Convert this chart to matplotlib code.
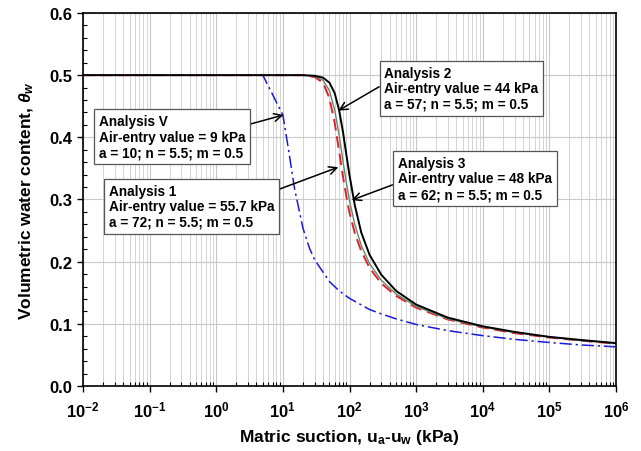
import numpy as np
import matplotlib
matplotlib.use('Agg')
import matplotlib.pyplot as plt
from matplotlib.ticker import LogLocator, FixedLocator, MultipleLocator, FuncFormatter

plt.rcParams['font.family'] = ['Liberation Sans', 'DejaVu Sans']
plt.rcParams['mathtext.fontset'] = 'custom'
plt.rcParams['mathtext.rm'] = 'Liberation Sans:bold'
plt.rcParams['mathtext.it'] = 'Liberation Sans:bold:italic'
plt.rcParams['mathtext.bf'] = 'Liberation Sans:bold'

# matric suction (kPa) and volumetric water content
suction_main = [0.01, 10, 20, 30, 40, 50, 60, 70, 80, 90, 100, 120, 150, 200, 300, 500,
                1e3, 3e3, 1e4, 3e4, 1e5, 3e5, 1e6]
theta_a1 = [0.5, 0.5, 0.5, 0.499, 0.496, 0.488, 0.471, 0.443, 0.408, 0.371, 0.339, 0.291,
            0.247, 0.211, 0.179, 0.153, 0.131, 0.110, 0.096, 0.087, 0.079, 0.074, 0.069]
theta_a3 = [0.5, 0.5, 0.5, 0.498, 0.492, 0.475, 0.444, 0.403, 0.361, 0.326, 0.298, 0.260,
            0.226, 0.197, 0.170, 0.148, 0.128, 0.108, 0.095, 0.086, 0.079, 0.073, 0.069]
theta_a2 = [0.5, 0.5, 0.5, 0.497, 0.488, 0.463, 0.423, 0.377, 0.336, 0.304, 0.279, 0.246,
            0.217, 0.190, 0.165, 0.145, 0.126, 0.107, 0.094, 0.085, 0.078, 0.073, 0.068]

suction_v = [0.01, 5, 10, 12, 15, 20, 25, 30, 50, 70, 100, 200, 300, 500, 1e3, 3e3,
             1e4, 3e4, 1e5, 3e5, 1e6]
theta_v = [0.5, 0.5, 0.436, 0.384, 0.317, 0.254, 0.222, 0.203, 0.168, 0.153, 0.141, 0.123,
           0.116, 0.108, 0.099, 0.089, 0.081, 0.075, 0.070, 0.066, 0.063]

labels = ['Analysis V\nAir-entry value = 9 kPa\na = 10; n = 5.5; m = 0.5',
          'Analysis 1\nAir-entry value = 55.7 kPa\na = 72; n = 5.5; m = 0.5',
          'Analysis 2\nAir-entry value = 44 kPa\na = 57; n = 5.5; m = 0.5',
          'Analysis 3\nAir-entry value = 48 kPa\na = 62; n = 5.5; m = 0.5']

fig = plt.figure(figsize=(6.41, 4.52), dpi=100)
ax = fig.add_axes([83/641, 1-387/452, (616-83)/641, (387-14)/452])

ax.plot(suction_v, theta_v, color='#1a1adb', lw=1.1, ls=(0, (8, 2.5, 1.5, 2.5)), zorder=3)
ax.plot(suction_main, theta_a2, color='#e0202a', lw=1.4, ls=(0, (6, 3)), zorder=4)
ax.plot(suction_main, theta_a3, color='#5f8a70', lw=1.0, zorder=4)
ax.plot(suction_main, theta_a1, color='black', lw=1.4, zorder=5)

ax.set_xscale('log')
ax.set_xlim(1e-2, 1e6)
ax.set_ylim(0, 0.6)
ax.xaxis.set_major_locator(LogLocator(base=10, numticks=20))
ax.xaxis.set_minor_locator(LogLocator(base=10, subs=np.arange(2, 10), numticks=100))
ax.xaxis.set_major_formatter(FuncFormatter(lambda v, p: r'$\mathbf{10^{%d}}$' % round(np.log10(v))))
ax.yaxis.set_major_locator(MultipleLocator(0.1))
ax.yaxis.set_minor_locator(MultipleLocator(0.02))
ax.yaxis.set_major_formatter(FuncFormatter(lambda v, p: '%.1f' % v))

ax.grid(True, which='major', axis='both', color='#c8c8c8', lw=0.8)
ax.grid(True, which='minor', axis='x', color='#d4d4d4', lw=0.7)
ax.set_axisbelow(True)
ax.tick_params(which='major', direction='out', length=4, width=1, labelsize=12)
ax.tick_params(axis='x', which='major', pad=6)
ax.tick_params(which='minor', direction='in', length=3, width=0.8)
for t in ax.get_yticklabels():
    t.set_fontweight('bold')
for s in ax.spines.values():
    s.set_linewidth(1.2)

ax.set_xlabel(r'Matric suction, u$_{\mathrm{a}}$-u$_{\mathrm{w}}$ (kPa)', fontsize=12.5,
              fontweight='bold', labelpad=5)
ax.set_ylabel(r'Volumetric water content, $\theta_{w}$', fontsize=12.5,
              fontweight='bold', labelpad=10)

# text box anchors, arrow tips and arrow start points
text_pos = [(0.0174, 0.401), (0.0246, 0.289), (334, 0.479), (531, 0.334)]
tips = [(10.2, 0.436), (68, 0.352), (68, 0.443), (108, 0.299)]
rel = [(1, 0.75), (1, 0.84), (0, 0.6), (0, 0.4)]
for lab, tp, tip, rp in zip(labels, text_pos, tips, rel):
    ax.annotate(lab, xy=tip, xytext=tp, ha='left', va='center', fontsize=9.8,
                fontweight='bold', linespacing=1.15, zorder=6,
                bbox=dict(boxstyle='square,pad=0.35', fc='white', ec='#555555', lw=0.9),
                arrowprops=dict(arrowstyle='->', color='black', lw=1.1, relpos=rp,
                                shrinkA=0, shrinkB=0, mutation_scale=14))

fig.savefig('out.png', dpi=100)
